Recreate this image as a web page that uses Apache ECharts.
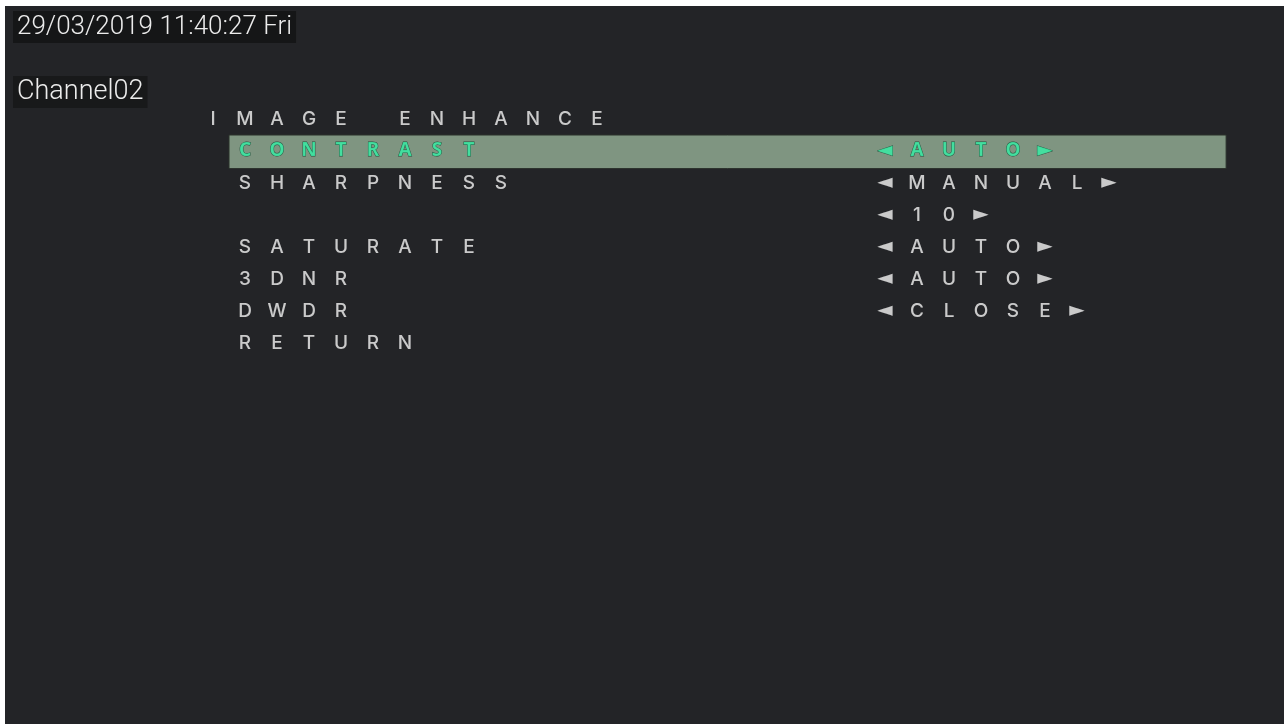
<!DOCTYPE html>
<html>
<head>
<meta charset="utf-8">
<script src="https://cdn.jsdelivr.net/npm/echarts@6/dist/echarts.min.js"></script>
<style>
  html, body { margin: 0; padding: 0; background: #ffffff; }
  #chart { position: absolute; left: 5px; top: 6px; width: 1279px; height: 718px; }
</style>
</head>
<body>
<div id="chart"></div>
<script>
// ---- content ----
const dateText = '29/03/2019 11:40:27 Fri';
const channelText = 'Channel02';
const menuTitle = 'IMAGE ENHANCE';
const menuItems = ['CONTRAST', 'SHARPNESS', '', 'SATURATE', '3DNR', 'DWDR', 'RETURN'];
const menuValues = ['AUTO', 'MANUAL', '10', 'AUTO', 'AUTO', 'CLOSE', ''];
const selectedRow = 0;           // index into menuItems
const itemColumn = 1;            // grid column where item labels start
const valueColumn = 21;          // grid column of the left arrow of values

const white = '#f4f4f4';
const green = '#36f0a6';

function cell(ch, col, row, selected, isArrow) {
  return {
    name: ch,
    value: [col, row],
    label: {
      color: selected ? green : white,
      fontFamily: isArrow ? 'DejaVu Sans' : (selected ? 'Noto Sans' : 'Inter'),
      fontWeight: selected ? 'bold' : 500,
      fontSize: isArrow ? 20 : 19,
      textBorderColor: selected ? '#0f3a28' : 'transparent',
      textBorderWidth: selected ? 0.8 : 0
    }
  };
}

const cells = [];
// title row (row 0)
menuTitle.split('').forEach((ch, k) => {
  if (ch !== ' ') cells.push(cell(ch, k, 0, false, false));
});
// items and values (rows 1..)
menuItems.forEach((item, i) => {
  const row = i + 1;
  const sel = i === selectedRow;
  item.split('').forEach((ch, k) => {
    if (ch !== ' ') cells.push(cell(ch, itemColumn + k, row, sel, false));
  });
  const v = menuValues[i];
  if (v) {
    cells.push(cell('◄', valueColumn, row, sel, true));
    v.split('').forEach((ch, k) => cells.push(cell(ch, valueColumn + 1 + k, row, sel, false)));
    cells.push(cell('►', valueColumn + 1 + v.length, row, sel, true));
  }
});

const chart = echarts.init(document.getElementById('chart'));
chart.setOption({
  backgroundColor: '#232427',
  animation: false,
  title: [
    {
      text: dateText, left: 8, top: 5, padding: [2, 4],
      backgroundColor: '#151617',
      textStyle: { color: '#ececec', fontFamily: 'Roboto', fontWeight: 300, fontSize: 26, lineHeight: 28 }
    },
    {
      text: channelText, left: 8, top: 70, padding: [2, 4],
      backgroundColor: '#18191a',
      textStyle: { color: '#ececec', fontFamily: 'Roboto', fontWeight: 300, fontSize: 27, lineHeight: 28 }
    }
  ],
  grid: { left: 176, top: 81, width: 1056, height: 608 },
  xAxis: {
    type: 'value', min: -1, max: 32,
    axisLine: { show: false }, axisTick: { show: false }, axisLabel: { show: false }, splitLine: { show: false }
  },
  yAxis: {
    type: 'value', min: -1, max: 18, inverse: true,
    axisLine: { show: false }, axisTick: { show: false }, axisLabel: { show: false }, splitLine: { show: false }
  },
  series: [{
    type: 'scatter',
    symbolSize: 1,
    itemStyle: { color: 'transparent' },
    silent: true,
    data: cells,
    label: {
      show: true,
      position: 'inside',
      formatter: p => p.name,
      fontFamily: 'Inter',
      fontSize: 19
    },
    markArea: {
      silent: true,
      itemStyle: { color: '#7f9581', borderColor: '#2a302b', borderWidth: 1 },
      data: [[
        { xAxis: 0.5, yAxis: selectedRow + 0.5 },
        { xAxis: 31.66, yAxis: selectedRow + 1.55 }
      ]]
    }
  }]
});
</script>
</body>
</html>
